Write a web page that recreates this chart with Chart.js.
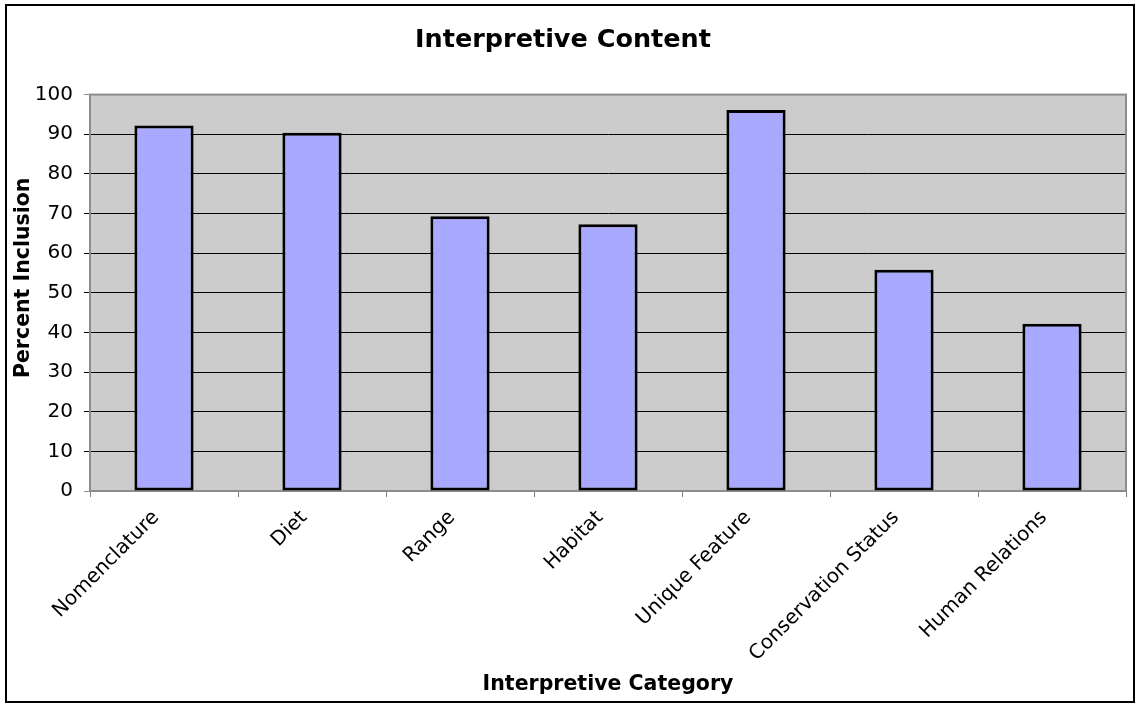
<!DOCTYPE html>
<html>
<head>
<meta charset="utf-8">
<title>Interpretive Content</title>
<script src="https://cdn.jsdelivr.net/npm/chart.js@4/dist/chart.umd.min.js"></script>
<style>
  body { margin: 0; background: #fff; }
  #wrap { width: 1136px; height: 704px; }
</style>
</head>
<body>
<div id="wrap"><canvas id="contentChart" width="1136" height="704"></canvas></div>
<script>
// percent of exhibits covering each interpretive category
const categories = ['Nomenclature', 'Diet', 'Range', 'Habitat', 'Unique Feature', 'Conservation Status', 'Human Relations'];
const percentInclusion = [92.2, 90.4, 69.3, 67.3, 96.1, 55.8, 42.2];
const yTicks = [0, 10, 20, 30, 40, 50, 60, 70, 80, 90, 100];
const yTitle = 'Percent Inclusion';

const FONT = "'DejaVu Sans', Verdana, sans-serif";
const PLOT_LEFT = 90;
const PLOT_BOTTOM = 491;

// gray plot background, gray frame round the plot, black frame round the whole chart
// the y title sits a little above the plot's middle, so it's drawn here
const excelFrame = {
  id: 'excelFrame',
  beforeDraw(chart) {
    const { ctx, chartArea: a } = chart;
    ctx.save();
    ctx.fillStyle = '#fff';
    ctx.fillRect(0, 0, chart.width, chart.height);
    ctx.fillStyle = '#cccccc';
    ctx.fillRect(a.left, a.top, a.right - a.left, a.bottom - a.top);
    ctx.restore();
  },
  beforeDatasetsDraw(chart) {
    const { ctx, chartArea: a } = chart;
    ctx.save();
    ctx.strokeStyle = '#8c8c8c';
    ctx.lineWidth = 2;
    ctx.strokeRect(a.left, a.top, a.right - a.left, a.bottom - a.top);
    ctx.restore();
  },
  afterDraw(chart) {
    const { ctx, chartArea: a } = chart;
    ctx.save();
    ctx.translate(24, (a.top + a.bottom) / 2 - 15);
    ctx.rotate(-Math.PI / 2);
    ctx.fillStyle = '#000';
    ctx.font = `bold 20.5px ${FONT}`;
    ctx.textAlign = 'center';
    ctx.textBaseline = 'middle';
    ctx.fillText(yTitle, 0, 0);
    ctx.restore();

    ctx.save();
    ctx.strokeStyle = '#000';
    ctx.lineWidth = 2;
    ctx.strokeRect(6, 5, chart.width - 8, chart.height - 7);
    ctx.restore();
  }
};

const ctx = document.getElementById('contentChart').getContext('2d');
const contentChart = new Chart(ctx, {
  type: 'bar',
  data: {
    labels: categories,
    datasets: [{
      data: percentInclusion,
      backgroundColor: '#a9a9ff',
      borderColor: '#000',
      borderWidth: 3,
      borderSkipped: false,
      barPercentage: 0.4,
      categoryPercentage: 1
    }]
  },
  options: {
    responsive: false,
    animation: false,
    layout: { padding: { left: 0, right: 10, top: 0, bottom: 0 } },
    plugins: {
      legend: { display: false },
      tooltip: { enabled: false },
      title: {
        display: true,
        text: 'Interpretive Content',
        color: '#000',
        font: { family: FONT, size: 25.5, weight: 'bold', lineHeight: 1.2 },
        padding: { top: 25, bottom: 39 }
      }
    },
    scales: {
      x: {
        afterFit: (scale) => { scale.height = 704 - PLOT_BOTTOM; },
        grid: {
          offset: true,
          drawOnChartArea: false,
          drawTicks: true,
          tickLength: 6,
          color: '#808080',
          lineWidth: 1
        },
        border: { color: '#808080', width: 2 },
        ticks: {
          color: '#000',
          font: { family: FONT, size: 20 },
          minRotation: 45,
          maxRotation: 45,
          autoSkip: false,
          padding: 9,
          labelOffset: -8
        },
        title: {
          display: true,
          text: 'Interpretive Category',
          color: '#000',
          font: { family: FONT, size: 20.5, weight: 'bold', lineHeight: 1.2 },
          padding: { top: 0, bottom: 7 }
        }
      },
      y: {
        min: 0,
        max: 100,
        afterFit: (scale) => { scale.width = PLOT_LEFT; },
        afterBuildTicks: (scale) => { scale.ticks = yTicks.map(v => ({ value: v })); },
        grid: {
          color: (c) => (c.tick && (c.tick.value === 100 || c.tick.value === 0)) ? '#8c8c8c' : '#000',
          lineWidth: 1,
          drawTicks: true,
          tickLength: 6
        },
        border: { color: '#808080', width: 2 },
        ticks: {
          color: '#000',
          font: { family: FONT, size: 20 },
          padding: 11
        },
        title: { display: false }
      }
    }
  },
  plugins: [excelFrame]
});
</script>
</body>
</html>
